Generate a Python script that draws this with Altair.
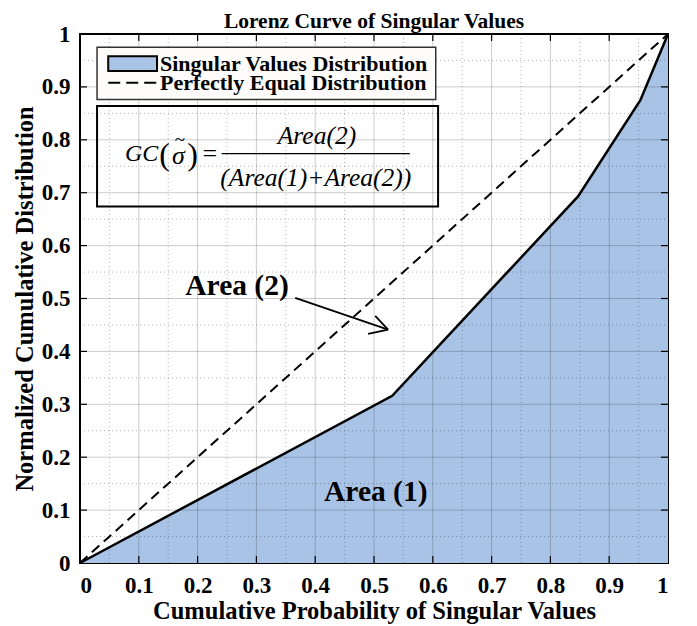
import altair as alt
import pandas as pd

# ---- data ----
curve_x = [0.0, 0.531, 0.847, 0.953, 1.0]
curve_y = [0.0, 0.316, 0.693, 0.875, 1.0]
equal_x = [0.0, 1.0]
equal_y = [0.0, 1.0]
axis_values = [0.0, 0.1, 0.2, 0.3, 0.4, 0.5, 0.6, 0.7, 0.8, 0.9, 1.0]
major_grid = [0.1, 0.2, 0.3, 0.4, 0.5, 0.6, 0.7, 0.8, 0.9]
minor_grid = [0.05, 0.15, 0.25, 0.35, 0.45, 0.55, 0.65, 0.75, 0.85, 0.95]

title_text = "Lorenz Curve of Singular Values"
x_title = "Cumulative Probability of Singular Values"
y_title = "Normalized Cumulative Distribution"
legend_labels = ["Singular Values Distribution", "Perfectly Equal Distribution"]

FILL = "#a9c3e6"
SERIF = "Liberation Serif"
W, H = 588, 529

curve = pd.DataFrame({"x": curve_x, "y": curve_y})
equal = pd.DataFrame({"x": equal_x, "y": equal_y})

xs = alt.Scale(domain=[0, 1], nice=False, zero=False)
ys = alt.Scale(domain=[0, 1], nice=False, zero=False)

X = alt.X("x:Q", scale=xs, title=x_title,
          axis=alt.Axis(values=axis_values, format=".1~f", grid=False, ticks=False,
                        domain=False, labelPadding=11, titlePadding=2))
Y = alt.Y("y:Q", scale=ys, title=y_title,
          axis=alt.Axis(values=axis_values, format=".1~f", grid=False, ticks=False,
                        domain=False, labelPadding=10, titlePadding=4))

area = alt.Chart(curve).mark_area(color=FILL, opacity=1).encode(x=X, y=Y)

# grid lines (drawn on top of the area as in the reference)
gmaj = pd.DataFrame({"v": major_grid})
gmin = pd.DataFrame({"v": minor_grid})
vmaj = alt.Chart(gmaj).mark_rule(color="#000000", opacity=0.2, strokeWidth=1).encode(
    x=alt.X("v:Q", scale=xs), y=alt.value(0), y2=alt.value(H))
hmaj = alt.Chart(gmaj).mark_rule(color="#000000", opacity=0.2, strokeWidth=1).encode(
    y=alt.Y("v:Q", scale=ys), x=alt.value(0), x2=alt.value(W))
vmin = alt.Chart(gmin).mark_rule(color="#000000", opacity=0.3, strokeWidth=1, strokeDash=[1, 3]).encode(
    x=alt.X("v:Q", scale=xs), y=alt.value(0), y2=alt.value(H))
hmin = alt.Chart(gmin).mark_rule(color="#000000", opacity=0.3, strokeWidth=1, strokeDash=[1, 3]).encode(
    y=alt.Y("v:Q", scale=ys), x=alt.value(0), x2=alt.value(W))

# inward ticks on all four sides
TL = 7
tb = alt.Chart(gmaj).mark_rule(color="black", strokeWidth=1.2).encode(
    x=alt.X("v:Q", scale=xs), y=alt.value(H), y2=alt.value(H - TL))
tt = alt.Chart(gmaj).mark_rule(color="black", strokeWidth=1.2).encode(
    x=alt.X("v:Q", scale=xs), y=alt.value(0), y2=alt.value(TL))
tl = alt.Chart(gmaj).mark_rule(color="black", strokeWidth=1.2).encode(
    y=alt.Y("v:Q", scale=ys), x=alt.value(0), x2=alt.value(TL))
tr = alt.Chart(gmaj).mark_rule(color="black", strokeWidth=1.2).encode(
    y=alt.Y("v:Q", scale=ys), x=alt.value(W), x2=alt.value(W - TL))

eq_line = alt.Chart(equal).mark_line(color="black", strokeWidth=2, strokeDash=[10, 6]).encode(
    x=alt.X("x:Q", scale=xs), y=alt.Y("y:Q", scale=ys))
curve_line = alt.Chart(curve).mark_line(color="black", strokeWidth=2.5).encode(
    x=alt.X("x:Q", scale=xs), y=alt.Y("y:Q", scale=ys))

# chart title as a text mark above the plot
title_mark = alt.Chart(pd.DataFrame({"t": [title_text]})).mark_text(
    align="center", baseline="alphabetic", font=SERIF, fontWeight="bold", fontSize=21.5, color="black").encode(
    x=alt.value(W / 2), y=alt.value(-6), text="t:N")

# legend box (opaque)
leg_box = alt.Chart(pd.DataFrame({"x": [0.029], "x2": [0.605], "y": [0.876], "y2": [0.975]})).mark_rect(
    fill="#fdfcfb", stroke="#333333", strokeWidth=1.5).encode(
    x=alt.X("x:Q", scale=xs), x2="x2:Q", y=alt.Y("y:Q", scale=ys), y2="y2:Q")
leg_swatch = alt.Chart(pd.DataFrame({"x": [0.048], "x2": [0.131], "y": [0.930], "y2": [0.958]})).mark_rect(
    fill=FILL, stroke="black", strokeWidth=2).encode(
    x=alt.X("x:Q", scale=xs), x2="x2:Q", y=alt.Y("y:Q", scale=ys), y2="y2:Q")
leg_dash = alt.Chart(pd.DataFrame({"x": [0.048], "x2": [0.131], "y": [0.908]})).mark_rule(
    color="black", strokeWidth=2, strokeDash=[12, 6]).encode(
    x=alt.X("x:Q", scale=xs), x2="x2:Q", y=alt.Y("y:Q", scale=ys))
leg_text = alt.Chart(pd.DataFrame({"x": [0.136, 0.136], "y": [0.943, 0.907], "t": legend_labels})).mark_text(
    align="left", baseline="middle", font=SERIF, fontWeight="bold", fontSize=22, color="black").encode(
    x=alt.X("x:Q", scale=xs), y=alt.Y("y:Q", scale=ys), text="t:N")

# formula box (transparent)
f_box = alt.Chart(pd.DataFrame({"x": [0.029], "x2": [0.609], "y": [0.674], "y2": [0.864]})).mark_rect(
    fill=None, stroke="black", strokeWidth=2).encode(
    x=alt.X("x:Q", scale=xs), x2="x2:Q", y=alt.Y("y:Q", scale=ys), y2="y2:Q")
f_bar = alt.Chart(pd.DataFrame({"x": [0.241], "x2": [0.561], "y": [0.774]})).mark_rule(
    color="black", strokeWidth=1.2).encode(
    x=alt.X("x:Q", scale=xs), x2="x2:Q", y=alt.Y("y:Q", scale=ys))
f_italic = alt.Chart(pd.DataFrame({"x": [0.0765], "y": [0.774], "t": ["GC"]})).mark_text(
    align="left", baseline="middle", font=SERIF, fontStyle="italic", fontSize=24, color="black").encode(
    x=alt.X("x:Q", scale=xs), y=alt.Y("y:Q", scale=ys), text="t:N")
f_sigma = alt.Chart(pd.DataFrame({"x": [0.1675], "y": [0.770], "t": ["σ"]})).mark_text(
    align="center", baseline="middle", font=SERIF, fontStyle="italic", fontSize=26, color="black").encode(
    x=alt.X("x:Q", scale=xs), y=alt.Y("y:Q", scale=ys), text="t:N")
f_tilde = alt.Chart(pd.DataFrame({"x": [0.1700], "y": [0.800], "t": ["~"]})).mark_text(
    align="center", baseline="middle", font=SERIF, fontSize=19, color="black").encode(
    x=alt.X("x:Q", scale=xs), y=alt.Y("y:Q", scale=ys), text="t:N")
f_paren = alt.Chart(pd.DataFrame({"x": [0.1440, 0.1913], "y": [0.772, 0.772], "t": ["(", ")"]})).mark_text(
    align="center", baseline="middle", font=SERIF, fontSize=32, color="black").encode(
    x=alt.X("x:Q", scale=xs), y=alt.Y("y:Q", scale=ys), text="t:N")
f_eq = alt.Chart(pd.DataFrame({"x": [0.221], "y": [0.774], "t": ["="]})).mark_text(
    align="center", baseline="middle", font=SERIF, fontSize=26, color="black").encode(
    x=alt.X("x:Q", scale=xs), y=alt.Y("y:Q", scale=ys), text="t:N")
f_frac = alt.Chart(pd.DataFrame({"x": [0.403, 0.401], "y": [0.808, 0.727],
                                 "t": ["Area(2)", "(Area(1)+Area(2))"]})).mark_text(
    align="center", baseline="middle", font=SERIF, fontStyle="italic", fontSize=25.5, color="black").encode(
    x=alt.X("x:Q", scale=xs), y=alt.Y("y:Q", scale=ys), text="t:N")

# area labels and arrow
area_lbl = alt.Chart(pd.DataFrame({"x": [0.267, 0.503], "y": [0.524, 0.134],
                                   "t": ["Area (2)", "Area (1)"]})).mark_text(
    align="center", baseline="middle", font=SERIF, fontWeight="bold", fontSize=29.5, color="black").encode(
    x=alt.X("x:Q", scale=xs), y=alt.Y("y:Q", scale=ys), text="t:N")
arrow = alt.Chart(pd.DataFrame({"x": [0.366, 0.524, 0.524], "x2": [0.524, 0.502, 0.490],
                                "y": [0.501, 0.441, 0.441], "y2": [0.441, 0.467, 0.433]})).mark_rule(
    color="black", strokeWidth=1.8).encode(
    x=alt.X("x:Q", scale=xs), x2="x2:Q", y=alt.Y("y:Q", scale=ys), y2="y2:Q")

chart = alt.layer(
    area, vmin, hmin, vmaj, hmaj, tb, tt, tl, tr, eq_line, curve_line,
    leg_box, leg_swatch, leg_dash, leg_text, f_box, f_bar, f_italic, f_sigma, f_tilde,
    f_paren, f_eq, f_frac, area_lbl, arrow, title_mark,
).properties(
    width=W, height=H,
    autosize=alt.AutoSizeParams(type="none"),
    padding={"left": 72, "top": 26, "right": 9, "bottom": 62},
    background="white",
).configure_view(
    stroke="black", strokeWidth=2,
).configure_axis(
    labelFont=SERIF, labelFontWeight="bold", labelFontSize=23, labelColor="black",
    titleFont=SERIF, titleFontWeight="bold", titleFontSize=24.5, titleColor="black",
)

chart.save("out.html", embed_options={"renderer": "svg", "actions": False})
